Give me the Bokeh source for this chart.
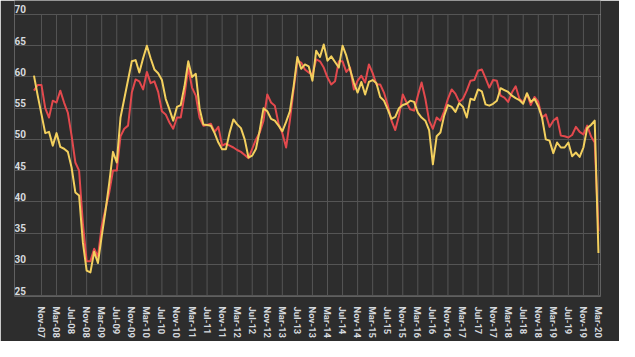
from bokeh.plotting import figure
from bokeh.models import FixedTicker, Range1d, Grid, Label
from bokeh.embed import file_html
from bokeh.resources import INLINE

# Monthly index: 0 = Sep-07 ... 150 = Mar-20
tick_labels = ["Nov-07","Mar-08","Jul-08","Nov-08","Mar-09","Jul-09","Nov-09","Mar-10",
               "Jul-10","Nov-10","Mar-11","Jul-11","Nov-11","Mar-12","Jul-12","Nov-12",
               "Mar-13","Jul-13","Nov-13","Mar-14","Jul-14","Nov-14","Mar-15","Jul-15",
               "Nov-15","Mar-16","Jul-16","Nov-16","Mar-17","Jul-17","Nov-17","Mar-18",
               "Jul-18","Nov-18","Mar-19","Jul-19","Nov-19","Mar-20"]
tick_months = list(range(2, 151, 4))
y_ticks = [25, 30, 35, 40, 45, 50, 55, 60, 65, 70]

yellow = [60.2, 57.0, 54.0, 51.0, 51.2, 49.0, 51.0, 48.8, 48.5, 48.0,
          45.5, 41.5, 41.0, 33.5, 29.0, 28.7, 32.0, 30.2, 34.5, 38.5,
          43.0, 48.0, 46.3, 53.5, 56.5, 59.5, 62.5, 62.7, 60.7, 63.0,
          65.0, 63.0, 61.2, 60.6, 59.5, 56.5, 54.8, 53.0, 55.2, 55.5,
          58.5, 62.5, 60.0, 60.5, 55.0, 52.4, 52.3, 52.2, 51.0, 49.5,
          48.4, 48.4, 51.1, 53.2, 52.4, 51.8, 50.0, 47.1, 47.4, 48.5,
          51.5, 55.0, 54.5, 53.3, 53.0, 52.2, 51.3, 52.8, 54.5, 58.5,
          63.2, 61.3, 62.0, 61.7, 59.4, 64.2, 63.2, 65.2, 62.6, 63.3,
          62.4, 61.5, 65.0, 63.4, 61.2, 59.1, 57.5, 59.2, 57.2, 59.2,
          59.5, 59.0, 56.8, 56.2, 54.8, 53.3, 53.6, 55.0, 55.5, 55.7,
          56.2, 56.0, 54.3, 53.5, 53.0, 51.5, 46.0, 50.5, 51.1, 53.8,
          55.5, 55.2, 54.4, 55.8, 55.2, 53.5, 56.5, 56.3, 58.0, 57.7,
          55.6, 55.4, 55.7, 56.2, 58.2, 57.9, 57.6, 57.0, 56.6, 56.3,
          55.7, 57.4, 56.0, 56.5, 55.3, 53.5, 50.0, 49.8, 47.8, 49.5,
          48.7, 48.7, 49.5, 47.3, 47.9, 47.2, 48.7, 51.8, 52.3, 53.0,
          31.8]

red = [57.8, 58.7, 58.7, 55.0, 53.5, 56.2, 55.9, 57.8, 55.9, 54.3,
       50.6, 46.3, 45.0, 36.5, 30.5, 30.5, 32.5, 31.2, 36.1, 38.8,
       41.5, 45.0, 45.0, 50.5, 51.7, 52.2, 57.5, 59.6, 59.3, 58.0,
       60.8, 59.0, 59.3, 57.6, 54.5, 54.0, 52.7, 51.7, 53.5, 53.5,
       57.0, 61.5, 58.3, 57.0, 53.5, 52.2, 52.3, 52.5, 51.2, 52.0,
       49.0, 49.3, 49.0, 48.7, 48.3, 48.0, 47.5, 47.0, 48.5, 50.0,
       51.1, 53.0, 57.2, 55.9, 55.4, 52.5, 51.0, 48.7, 53.0, 58.0,
       62.6, 62.3, 61.2, 60.7, 60.4, 62.8, 62.5, 61.5, 59.9, 58.8,
       59.3, 62.5, 62.5, 60.8, 61.5, 58.0, 59.4, 60.2, 59.1, 62.0,
       60.6, 58.8, 58.8, 57.5, 55.5, 53.0, 51.5, 53.8, 57.2, 55.9,
       54.8, 54.6, 57.0, 59.1, 56.5, 53.0, 51.7, 53.5, 53.0, 54.5,
       56.5, 58.0, 57.3, 56.0, 56.5, 57.8, 59.4, 59.5, 61.0, 61.2,
       59.8, 58.3, 59.5, 59.4, 57.0, 56.7, 56.0, 57.5, 58.5, 56.5,
       55.9, 57.3, 55.5, 56.8, 56.0, 53.5, 54.0, 52.0, 53.0, 53.5,
       50.6, 50.5, 50.3, 50.7, 52.0, 51.2, 50.8, 52.2, 50.5, 49.5,
       35.3]

months = list(range(len(yellow)))

BG = "#2d2d2d"
GRID = "#555555"
TXT = "#d6dadf"

x0, x1 = -5.17, 150.54
p = figure(width=619, height=341, output_backend="svg", toolbar_location=None,
           x_range=Range1d(x0, x1), y_range=Range1d(24.84, 72.24),
           y_axis_location=None,
           min_border_left=14, min_border_right=19, min_border_top=0, min_border_bottom=45)
p.background_fill_color = BG
p.border_fill_color = BG
p.outline_line_color = None

p.xaxis.ticker = FixedTicker(ticks=tick_months)
p.xaxis.major_label_overrides = {m: l for m, l in zip(tick_months, tick_labels)}
p.xaxis.major_label_orientation = "vertical"
p.xaxis.axis_line_color = None
p.xaxis.major_tick_line_color = None
p.xaxis.minor_tick_line_color = None
p.xaxis.major_label_standoff = 4
p.xaxis.major_label_text_font = "Roboto"
p.xaxis.major_label_text_font_style = "bold"
p.xaxis.major_label_text_font_size = "9.5px"
p.xaxis.major_label_text_color = TXT

# vertical grid lines only between the lowest and highest y tick
p.xgrid.grid_line_color = None
n = len(tick_months)
p.segment(x0=tick_months, y0=[y_ticks[0]] * n, x1=tick_months, y1=[y_ticks[-1]] * n,
          line_color=GRID, line_width=1)
p.add_layout(Grid(dimension=1, ticker=FixedTicker(ticks=y_ticks),
                  grid_line_color=GRID, grid_line_width=1))

for v in y_ticks:
    p.add_layout(Label(x=x0, y=v, text=str(v), text_align="left", text_baseline="bottom",
                       y_offset=1, text_font="Roboto", text_font_style="bold",
                       text_font_size="10px", text_color=TXT))

p.line(months, red, line_color="#e3494d", line_width=2, line_join="round")
p.line(months, yellow, line_color="#f3d05e", line_width=2, line_join="round")

open("out.html", "w").write(file_html(p, INLINE))
